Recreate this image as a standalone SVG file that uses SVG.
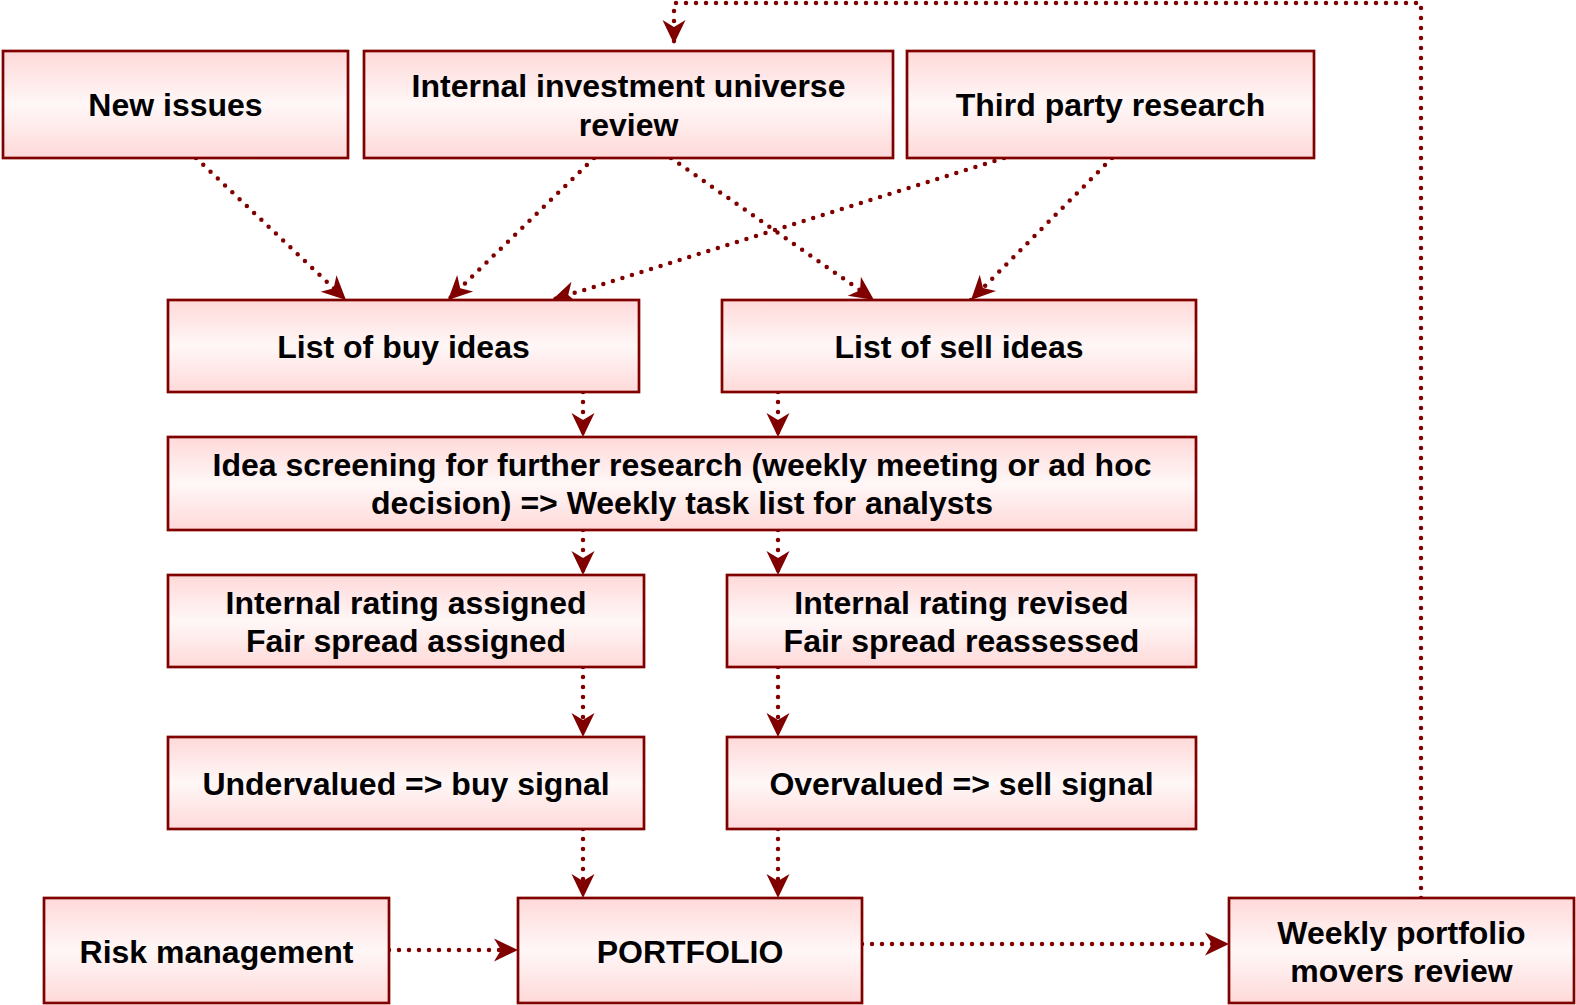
<svg xmlns="http://www.w3.org/2000/svg" width="1576" height="1005" viewBox="0 0 1576 1005">
<defs>
<linearGradient id="g" x1="0" y1="0" x2="0" y2="1">
<stop offset="0" stop-color="#ffd9d9"/>
<stop offset="0.5" stop-color="#fff7f7"/>
<stop offset="1" stop-color="#ffd9d9"/>
</linearGradient>
<marker id="ar" markerUnits="userSpaceOnUse" markerWidth="30" markerHeight="30" refX="24" refY="12" orient="auto" overflow="visible">
<path d="M0,0.5 L24,12 L0,23.5 L7,12 Z" fill="#800000"/>
</marker>
<style>
.box{fill:url(#g);stroke:#800000;stroke-width:2.7}
.t{font-family:"Liberation Sans",Arial,sans-serif;font-weight:bold;font-size:32px;fill:#000;text-anchor:middle}
.c{fill:none;stroke:#800000;stroke-width:4.5;stroke-linecap:round;stroke-dasharray:0 10;marker-end:url(#ar)}
</style>
</defs>
<rect width="1576" height="1005" fill="#fff"/>
<g id="connectors">
<path class="c" d="M196,158 L346,300"/>
<path class="c" d="M594,158 L448,300"/>
<path class="c" d="M671,158 L874,300"/>
<path class="c" d="M1004,158 L552,300"/>
<path class="c" d="M1112,158 L971,300"/>
<path class="c" d="M583,392 L583,437"/>
<path class="c" d="M778,392 L778,437"/>
<path class="c" d="M583,530 L583,575"/>
<path class="c" d="M778,530 L778,575"/>
<path class="c" d="M583,667 L583,737"/>
<path class="c" d="M778,667 L778,737"/>
<path class="c" d="M583,829 L583,898"/>
<path class="c" d="M778,829 L778,898"/>
<path class="c" d="M389,950 L518,950"/>
<path class="c" d="M862,944 L1229,944"/>
<path class="c" d="M1421,898 L1421,3 L674,3 L674,44"/>
</g>
<g id="new-issues"><rect class="box" x="3" y="51" width="345" height="107"/><text class="t" x="175.5" y="116">New issues</text></g>
<g id="internal-review"><rect class="box" x="364" y="51" width="529" height="107"/><text class="t" x="628.5" y="97">Internal investment universe</text><text class="t" x="628.5" y="136">review</text></g>
<g id="third-party"><rect class="box" x="907" y="51" width="407" height="107"/><text class="t" x="1110.5" y="116">Third party research</text></g>
<g id="buy-ideas"><rect class="box" x="168" y="300" width="471" height="92"/><text class="t" x="403.5" y="358">List of buy ideas</text></g>
<g id="sell-ideas"><rect class="box" x="722" y="300" width="474" height="92"/><text class="t" x="959" y="358">List of sell ideas</text></g>
<g id="screening"><rect class="box" x="168" y="437" width="1028" height="93"/><text class="t" x="682" y="476">Idea screening for further research (weekly meeting or ad hoc</text><text class="t" x="682" y="514">decision) =&gt; Weekly task list for analysts</text></g>
<g id="rating-assigned"><rect class="box" x="168" y="575" width="476" height="92"/><text class="t" x="406" y="614">Internal rating assigned</text><text class="t" x="406" y="652">Fair spread assigned</text></g>
<g id="rating-revised"><rect class="box" x="727" y="575" width="469" height="92"/><text class="t" x="961.5" y="614">Internal rating revised</text><text class="t" x="961.5" y="652">Fair spread reassessed</text></g>
<g id="undervalued"><rect class="box" x="168" y="737" width="476" height="92"/><text class="t" x="406" y="795">Undervalued =&gt; buy signal</text></g>
<g id="overvalued"><rect class="box" x="727" y="737" width="469" height="92"/><text class="t" x="961.5" y="795">Overvalued =&gt; sell signal</text></g>
<g id="risk"><rect class="box" x="44" y="898" width="345" height="105"/><text class="t" x="216.5" y="963">Risk management</text></g>
<g id="portfolio"><rect class="box" x="518" y="898" width="344" height="105"/><text class="t" x="690" y="963">PORTFOLIO</text></g>
<g id="weekly-review"><rect class="box" x="1229" y="898" width="345" height="105"/><text class="t" x="1401.5" y="944">Weekly portfolio</text><text class="t" x="1401.5" y="982">movers review</text></g>
</svg>
